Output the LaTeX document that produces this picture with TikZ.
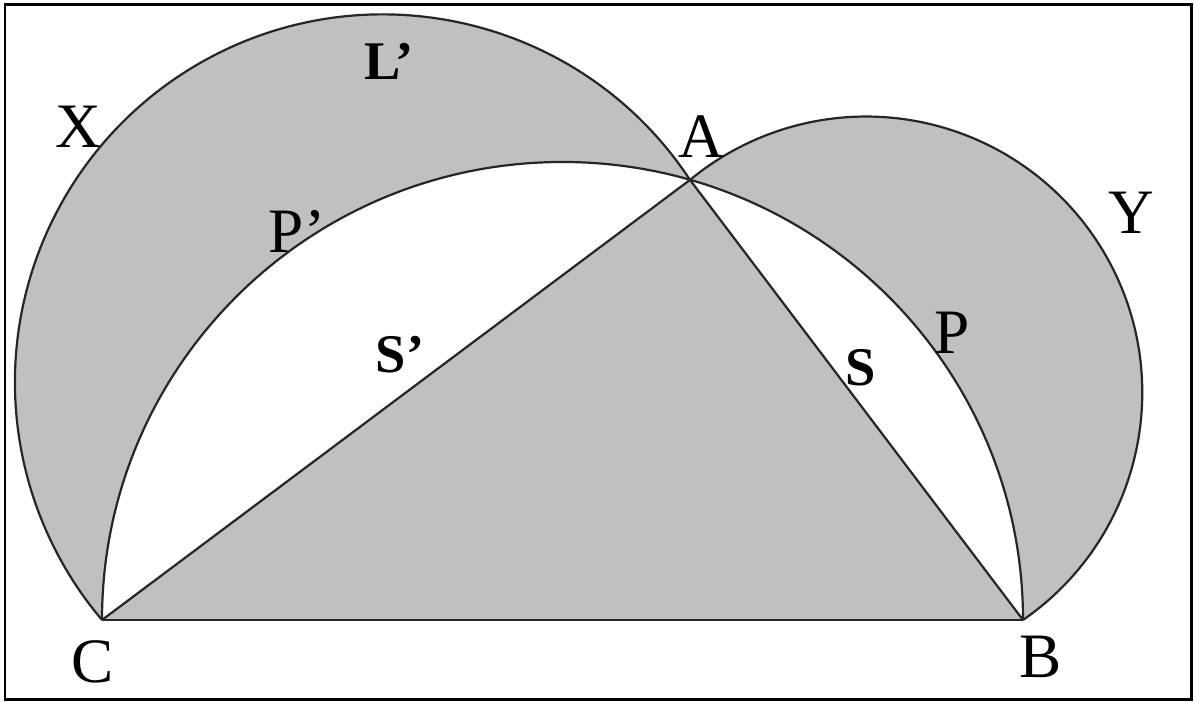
\documentclass[tikz,border=0pt]{standalone}
\usepackage{fontspec}
\setmainfont{Liberation Serif}
\usetikzlibrary{calc}
\definecolor{lunegray}{HTML}{C0C0C0}

\begin{document}
\begin{tikzpicture}[x=0.1mm, y=0.1mm,
      ln/.style={draw=black!85, line width=0.22mm},
      lb/.style={font=\fontsize{18}{20}\selectfont, inner sep=0pt},
      bl/.style={font=\fontsize{15.5}{18}\selectfont\bfseries, inner sep=0pt}]
    \useasboundingbox (0,0) rectangle (1194,702);
    \draw[line width=0.3mm] (5,2) rectangle (1191,697);
    % triangle corners
    \coordinate (C) at (102,82);
    \coordinate (B) at (1023,82);
    \coordinate (A) at (690,522.1);
    % fills
    \fill[lunegray] (A) arc[start angle=33.38, end angle=220.24, radius=367.9] -- cycle;
    \fill[lunegray] (B) arc[start angle=-55.37, end angle=129.61, radius=276.2] -- cycle;
    \fill[white] (C) arc[start angle=180, end angle=0, x radius=460.5, y radius=458] -- cycle;
    \fill[lunegray] (C) -- (A) -- (B) -- cycle;
    % outlines
    \draw[ln] (A) arc[start angle=33.38, end angle=220.24, radius=367.9];
    \draw[ln] (B) arc[start angle=-55.37, end angle=129.61, radius=276.2];
    \draw[ln] (C) arc[start angle=180, end angle=0, x radius=460.5, y radius=458];
    \draw[ln] (C) -- (A); \draw[ln] (A) -- (B); \draw[ln] (C) -- (B);
    % labels
    \node[lb] (nX) at (78,575) {X};
    \node[bl] (nL) at (389,641) {L'};
    \node[lb] (nA) at (701,565) {A};
    \node[lb] (nPp) at (297,471) {P'};
    \node[lb] (nY) at (1131,489) {Y};
    \node[lb] (nP) at (952,369) {P};
    \node[bl] (nSp) at (400,347) {S'};
    \node[bl] (nS) at (861,334) {S};
    \node[lb] (nC) at (93,40) {C};
    \node[lb] (nB) at (1041,45) {B};
  \end{tikzpicture}
\end{document}
